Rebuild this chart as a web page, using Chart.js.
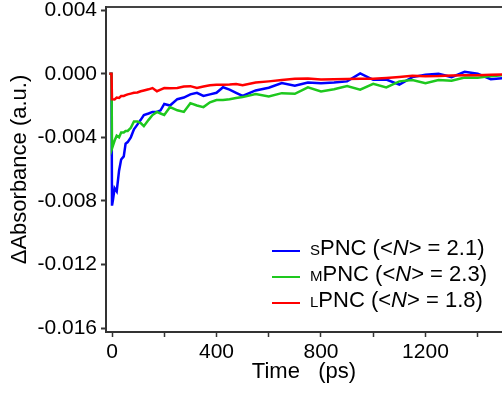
<!DOCTYPE html>
<html>
<head>
<meta charset="utf-8">
<script src="https://cdn.jsdelivr.net/npm/chart.js@4.4.0/dist/chart.umd.min.js"></script>
<style>
  html, body { margin: 0; padding: 0; background: #fff; overflow: hidden; }
  #wrap { position: relative; width: 502px; height: 393px; }
  #myChart { position: absolute; left: 0; top: 0; }
  #legend {
    position: absolute; left: 272px; top: 236px;
    font-family: "Liberation Sans", Arial, sans-serif; font-size: 22px;
    color: #000; line-height: 24px;
  }
  #legend .row { white-space: nowrap; }
  #legend .swatch { display: inline-block; width: 28px; height: 2px; vertical-align: middle; margin-right: 10px; position: relative; top: 2px; }
  #legend .sc { font-size: 15px; text-transform: uppercase; }
</style>
</head>
<body>
<div id="wrap">
  <canvas id="myChart" width="502" height="393"></canvas>
  <div id="legend"></div>
</div>
<script>
// temps (ps) et signaux de chaque échantillon
const timePs = [-10, -2, 0, 4, 10, 18, 27, 35, 45, 52, 60, 72, 84, 97, 110, 122, 140, 155, 172, 186,
  200, 222, 250, 275, 300, 325, 350, 375, 400, 425, 450, 475, 500, 550, 600, 650, 700, 750,
  800, 850, 900, 950, 1000, 1050, 1100, 1150, 1200, 1250, 1300, 1350, 1400, 1450, 1500];

const sPNC = [0, 0, -0.0083, -0.0079, -0.0072, -0.0074, -0.0061, -0.0054, -0.0052, -0.0044, -0.0043,
  -0.0040, -0.0035, -0.0032, -0.0029, -0.0026, -0.0025, -0.0024, -0.0024, -0.0023,
  -0.0019, -0.0020, -0.0016, -0.0015, -0.0013, -0.0012, -0.0014, -0.0013, -0.0012, -0.00085,
  -0.0010, -0.0012, -0.0014, -0.00105, -0.00088, -0.00059, -0.00076, -0.00055,
  -0.00059, -0.00055, -0.00048, 0.00002, -0.00038, -0.00036, -0.00068, -0.00021, -0.00006,
  0.0000, -0.00021, 0.00012, 0.0000, -0.00034, -0.00027];

const mPNC = [0, 0, -0.0047, -0.0045, -0.0042, -0.0039, -0.0040, -0.0037, -0.0037, -0.0036, -0.0036,
  -0.0034, -0.0030, -0.0030, -0.0031, -0.0033, -0.0029, -0.0026, -0.0024, -0.0025,
  -0.0026, -0.0021, -0.0023, -0.0024, -0.00185, -0.0020, -0.0021, -0.0018, -0.00165, -0.00165,
  -0.0016, -0.00153, -0.00147, -0.00128, -0.00143, -0.00122, -0.00126, -0.00086,
  -0.00111, -0.00098, -0.00078, -0.0010, -0.00063, -0.00086, -0.00048, -0.00040, -0.00059,
  -0.00040, -0.00044, -0.00024, -0.00025, -0.00015, -0.00008];

const lPNC = [0, 0, -0.0016, -0.0016, -0.00162, -0.0015, -0.00152, -0.0014, -0.0014, -0.00135, -0.0013,
  -0.00125, -0.0012, -0.00118, -0.0011, -0.00105, -0.00098, -0.0009, -0.0011, -0.0010,
  -0.0009, -0.00092, -0.0009, -0.0008, -0.00078, -0.0009, -0.0008, -0.00072, -0.00069, -0.0007,
  -0.00068, -0.00065, -0.00072, -0.00055, -0.00048, -0.0004, -0.00032, -0.0003,
  -0.00036, -0.00034, -0.00033, -0.00032, -0.00031, -0.00026, -0.0002, -0.00013, -0.00015,
  -0.00014, -0.00011, -0.0001, -0.00009, -0.00007, -0.00005];

const seriesNames = ['s', 'm', 'l'];
const meanN = ['2.1', '2.3', '1.8'];
const colors = ['#0000ff', '#1ec81e', '#ff0000'];

const yTicks = [-0.016, -0.012, -0.008, -0.004, 0, 0.004];
const xTicks = [0, 200, 400, 600, 800, 1000, 1200, 1400];

const font = "'Liberation Sans', Arial, sans-serif";
const axisColor = '#333';

const toPoints = vals => timePs.map((t, i) => ({ x: t, y: vals[i] }));
const allSeries = [sPNC, mPNC, lPNC];

const ctx = document.getElementById('myChart');

new Chart(ctx, {
  type: 'line',
  data: {
    datasets: allSeries.map((vals, i) => ({
      label: seriesNames[i].toUpperCase() + 'PNC',
      data: toPoints(vals),
      borderColor: colors[i],
      borderWidth: 2.5,
      pointRadius: 0,
      tension: 0,
      order: 2 - i
    }))
  },
  options: {
    responsive: false,
    animation: false,
    devicePixelRatio: 1,
    layout: { padding: 0 },
    plugins: { legend: { display: false }, tooltip: { enabled: false } },
    scales: {
      x: {
        type: 'linear',
        position: 'bottom',
        min: -23,
        max: 1493,
        afterBuildTicks: s => { s.ticks = xTicks.map(v => ({ value: v })); },
        afterFit: s => { s.height = 61; s.paddingLeft = 0; s.paddingRight = 0; },
        ticks: {
          autoSkip: false, maxRotation: 0, padding: 3, color: '#000',
          font: { family: font, size: 21 },
          callback: v => (v % 400 === 0 ? String(v) : '')
        },
        grid: { drawOnChartArea: false, tickLength: 5, tickColor: axisColor, tickWidth: 1.5 },
        border: { display: true, color: axisColor, width: 2 },
        title: {
          display: true, text: 'Time   (ps)', color: '#000',
          font: { family: font, size: 22 }, padding: { top: 0, bottom: 8 }
        }
      },
      top: {
        type: 'linear',
        axis: 'x',
        position: 'top',
        afterFit: s => { s.height = 7; s.paddingLeft = 0; s.paddingRight = 0; },
        ticks: { display: false },
        grid: { display: false },
        border: { display: true, color: '#444', width: 2 }
      },
      y: {
        type: 'linear',
        min: -0.01625,
        max: 0.0042,
        afterBuildTicks: s => { s.ticks = yTicks.map(v => ({ value: v })); },
        afterFit: s => { s.width = 106; s.paddingTop = 0; s.paddingBottom = 0; },
        ticks: {
          padding: 4, color: '#000',
          font: { family: font, size: 21 },
          callback: v => v.toFixed(3)
        },
        grid: { drawOnChartArea: false, tickLength: 5, tickColor: axisColor, tickWidth: 2 },
        border: { display: true, color: axisColor, width: 2 },
        title: {
          display: true, text: 'ΔAbsorbance (a.u.)', color: '#000',
          font: { family: font, size: 22 }, padding: { top: 7, bottom: 0 }
        }
      }
    }
  }
});

// légende HTML (petites capitales et N en italique)
const legend = document.getElementById('legend');
seriesNames.forEach((name, i) => {
  const row = document.createElement('div');
  row.className = 'row';
  row.innerHTML = '<span class="swatch" style="background:' + colors[i] + '"></span>' +
    '<span class="sc">' + name + '</span>PNC (&lt;<i>N</i>&gt; = ' + meanN[i] + ')';
  legend.appendChild(row);
});
</script>
</body>
</html>
